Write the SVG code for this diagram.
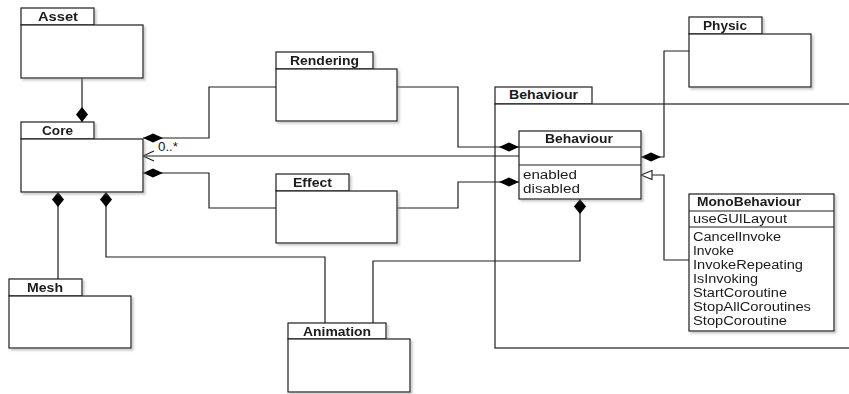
<svg xmlns="http://www.w3.org/2000/svg" width="849" height="394" viewBox="0 0 849 394">
  <style>
    .box { fill: #fff; stroke: #1e1e1e; stroke-width: 1.2; }
    .shd { filter: url(#shadow); }
    .ln { fill: none; stroke: #1e1e1e; stroke-width: 1.2; }
    .t { font-family: "Liberation Sans", Arial, sans-serif; font-size: 12.5px; fill: #1a1a1a; }
    .b { font-weight: bold; font-size: 12.5px; }
  </style>
  <defs>
    <filter id="shadow" x="-10%" y="-10%" width="130%" height="130%">
      <feDropShadow dx="2" dy="2" stdDeviation="1" flood-color="#888" flood-opacity="0.45"/>
    </filter>
    <!-- filled composition diamonds: horizontal and vertical proportions -->
    <marker id="diaH" markerUnits="userSpaceOnUse" viewBox="0 -6 22 12" refX="0" refY="0" markerWidth="22" markerHeight="12" orient="auto">
      <path d="M0,0 L10,-4.5 L20,0 L10,4.5 Z" fill="#000"/>
    </marker>
    <marker id="diaV" markerUnits="userSpaceOnUse" viewBox="0 -7 16 14" refX="0" refY="0" markerWidth="16" markerHeight="14" orient="auto">
      <path d="M0,0 L7.5,-6 L15,0 L7.5,6 Z" fill="#000"/>
    </marker>
    <!-- open navigation arrow -->
    <marker id="open" markerUnits="userSpaceOnUse" viewBox="-13 -7 15 14" refX="0" refY="0" markerWidth="15" markerHeight="14" orient="auto">
      <path d="M-11,-5 L0,0 L-11,5" fill="none" stroke="#1e1e1e" stroke-width="1.1"/>
    </marker>
    <!-- hollow generalization triangle -->
    <marker id="tri" markerUnits="userSpaceOnUse" viewBox="-13 -6 15 12" refX="0" refY="0" markerWidth="15" markerHeight="12" orient="auto">
      <path d="M-11,-4.5 L0,0 L-11,4.5 Z" fill="#fff" stroke="#1e1e1e" stroke-width="1.1"/>
    </marker>
  </defs>

  <rect width="849" height="394" fill="#fff"/>

  <!-- Behaviour package (extends past the right edge) -->
  <g id="pkg-behaviour">
    <rect class="box" x="495" y="87" width="97" height="17"/>
    <rect class="box" x="495" y="104" width="400" height="244"/>
    <text class="t b" x="509" y="99" textLength="69" lengthAdjust="spacingAndGlyphs">Behaviour</text>
  </g>

  <!-- connectors -->
  <g id="connectors">
    <path class="ln" d="M82,122 V78" marker-start="url(#diaV)"/>
    <path class="ln" d="M143,138 H209 V87 H276" marker-start="url(#diaH)"/>
    <path class="ln" d="M143,173 H209 V208 H276" marker-start="url(#diaH)"/>
    <path class="ln" d="M519,156 H143" marker-end="url(#open)"/>
    <path class="ln" d="M519,147 H458 V87 H397" marker-start="url(#diaH)"/>
    <path class="ln" d="M519,182 H458 V208 H397" marker-start="url(#diaH)"/>
    <path class="ln" d="M641,157 H664 V51 H689" marker-start="url(#diaH)"/>
    <path class="ln" d="M689,260 H664 V175 H641" marker-end="url(#tri)"/>
    <path class="ln" d="M580,199 V261 H373 V323" marker-start="url(#diaV)"/>
    <path class="ln" d="M58,192 V279" marker-start="url(#diaV)"/>
    <path class="ln" d="M106,192 V257 H325 V323" marker-start="url(#diaV)"/>
    <text class="t" x="158" y="151" font-size="11" textLength="20" lengthAdjust="spacingAndGlyphs">0..*</text>
  </g>

  <g id="asset" class="shd">
    <rect class="box" x="21" y="8" width="73" height="17"/>
    <rect class="box" x="21" y="25" width="122" height="53"/>
    <text class="t b" x="38" y="21" textLength="40" lengthAdjust="spacingAndGlyphs">Asset</text>
  </g>

  <g id="core" class="shd">
    <rect class="box" x="21" y="122" width="73" height="17"/>
    <rect class="box" x="21" y="139" width="122" height="53"/>
    <text class="t b" x="42" y="135" textLength="31" lengthAdjust="spacingAndGlyphs">Core</text>
  </g>

  <g id="rendering" class="shd">
    <rect class="box" x="276" y="52" width="97" height="17"/>
    <rect class="box" x="276" y="69" width="121" height="52"/>
    <text class="t b" x="290" y="65" textLength="69" lengthAdjust="spacingAndGlyphs">Rendering</text>
  </g>

  <g id="effect" class="shd">
    <rect class="box" x="276" y="174" width="73" height="17"/>
    <rect class="box" x="276" y="191" width="121" height="52"/>
    <text class="t b" x="293" y="187" textLength="39" lengthAdjust="spacingAndGlyphs">Effect</text>
  </g>

  <g id="mesh" class="shd">
    <rect class="box" x="9" y="279" width="73" height="17"/>
    <rect class="box" x="9" y="296" width="122" height="52"/>
    <text class="t b" x="27" y="292" textLength="36" lengthAdjust="spacingAndGlyphs">Mesh</text>
  </g>

  <g id="animation" class="shd">
    <rect class="box" x="288" y="323" width="98" height="16"/>
    <rect class="box" x="288" y="339" width="122" height="53"/>
    <text class="t b" x="303" y="336" textLength="68" lengthAdjust="spacingAndGlyphs">Animation</text>
  </g>

  <g id="physic" class="shd">
    <rect class="box" x="689" y="17" width="73" height="17"/>
    <rect class="box" x="689" y="34" width="122" height="53"/>
    <text class="t b" x="703" y="30" textLength="44" lengthAdjust="spacingAndGlyphs">Physic</text>
  </g>

  <g id="behaviour-class" class="shd">
    <rect class="box" x="519" y="131" width="122" height="68"/>
    <path class="ln" d="M519,147 H641 M519,165 H641"/>
    <text class="t b" x="545" y="143" textLength="68" lengthAdjust="spacingAndGlyphs">Behaviour</text>
    <text class="t" x="523" y="179" textLength="54" lengthAdjust="spacingAndGlyphs">enabled</text>
    <text class="t" x="523" y="193" textLength="57" lengthAdjust="spacingAndGlyphs">disabled</text>
  </g>

  <g id="monobehaviour" class="shd">
    <rect class="box" x="689" y="194" width="145" height="137"/>
    <path class="ln" d="M689,211 H834 M689,227 H834"/>
    <text class="t b" x="697" y="206" textLength="104" lengthAdjust="spacingAndGlyphs">MonoBehaviour</text>
    <text class="t" x="693" y="223" textLength="94" lengthAdjust="spacingAndGlyphs">useGUILayout</text>
    <text class="t" x="693" y="241" textLength="88" lengthAdjust="spacingAndGlyphs">CancelInvoke</text>
    <text class="t" x="693" y="255" textLength="41" lengthAdjust="spacingAndGlyphs">Invoke</text>
    <text class="t" x="693" y="269" textLength="110" lengthAdjust="spacingAndGlyphs">InvokeRepeating</text>
    <text class="t" x="693" y="283" textLength="65" lengthAdjust="spacingAndGlyphs">IsInvoking</text>
    <text class="t" x="693" y="297" textLength="94" lengthAdjust="spacingAndGlyphs">StartCoroutine</text>
    <text class="t" x="693" y="311" textLength="118" lengthAdjust="spacingAndGlyphs">StopAllCoroutines</text>
    <text class="t" x="693" y="325" textLength="94" lengthAdjust="spacingAndGlyphs">StopCoroutine</text>
  </g>
</svg>
